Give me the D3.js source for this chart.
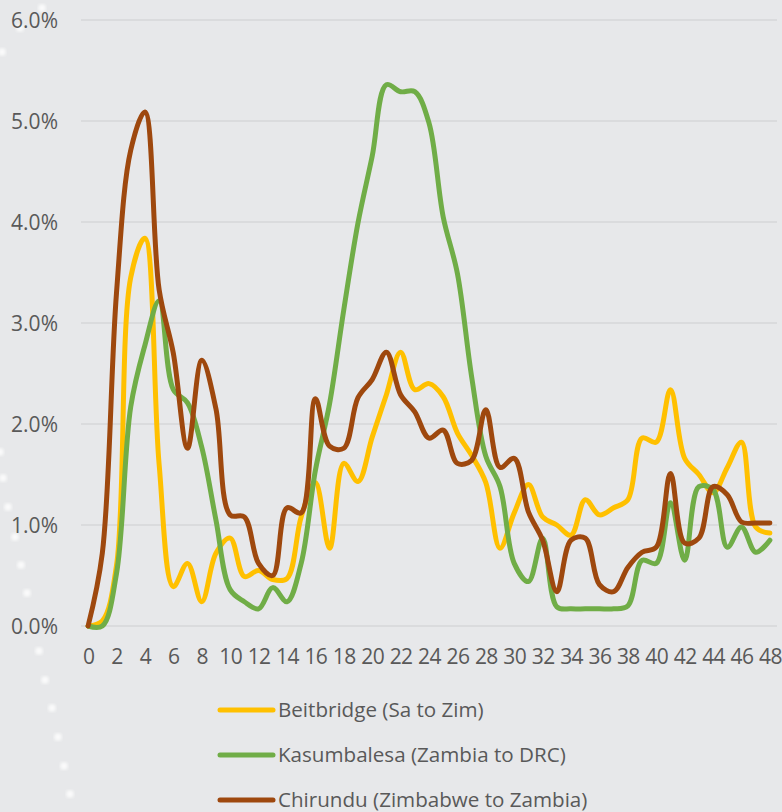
<!DOCTYPE html>
<html>
<head>
<meta charset="utf-8">
<script src="https://cdn.jsdelivr.net/npm/d3@7"></script>
<style>
  html, body { margin: 0; padding: 0; background: #e7e8ea; }
  svg { display: block; }
  text { font-family: "Open Sans", sans-serif; fill: #595959; }
</style>
</head>
<body>
<svg id="chart" width="782" height="812"></svg>
<script>
// ---- data ----
const hours = d3.range(0, 49);
const xTickLabels = d3.range(0, 49, 2);
const yTicks = [0, 0.01, 0.02, 0.03, 0.04, 0.05, 0.06];

const seriesNames = ["Beitbridge (Sa to Zim)", "Kasumbalesa (Zambia to DRC)", "Chirundu (Zimbabwe to Zambia)"];
const seriesColors = ["#FFC000", "#70AD47", "#9E480E"];

const beitbridge = [0.0, 0.05, 0.6, 3.45, 3.84, 1.6, 0.39, 0.62, 0.24, 0.72, 0.87, 0.49, 0.55, 0.46, 0.47, 1.08,
  1.42, 0.77, 1.61, 1.43, 1.87, 2.29, 2.71, 2.34, 2.40, 2.27, 1.91, 1.69, 1.42, 0.77, 1.12, 1.40,
  1.08, 1.00, 0.90, 1.25, 1.10, 1.17, 1.25, 1.86, 1.82, 2.34, 1.66, 1.50, 1.32, 1.57, 1.82, 0.98, 0.92];
const kasumbalesa = [0.0, 0.0, 0.52, 2.17, 2.78, 3.22, 2.34, 2.21, 1.77, 1.05, 0.36, 0.24, 0.17, 0.38, 0.24, 0.62,
  1.54, 2.2, 3.13, 3.99, 4.65, 5.36, 5.29, 5.29, 4.98, 4.05, 3.49, 2.47, 1.68, 1.38, 0.62, 0.44,
  0.87, 0.19, 0.17, 0.17, 0.17, 0.17, 0.2, 0.65, 0.62, 1.22, 0.65, 1.38, 1.35, 0.78, 0.98, 0.73, 0.85];
const chirundu = [0.0, 0.72, 3.3, 4.71, 5.09, 3.33, 2.7, 1.76, 2.63, 2.15, 1.10, 1.08, 0.62, 0.50, 1.17, 1.12,
  2.25, 1.78, 1.76, 2.26, 2.44, 2.71, 2.29, 2.12, 1.86, 1.94, 1.61, 1.64, 2.14, 1.57, 1.66, 1.13,
  0.85, 0.34, 0.85, 0.87, 0.41, 0.34, 0.58, 0.73, 0.78, 1.51, 0.82, 0.87, 1.38, 1.30, 1.03, 1.02, 1.02];

// decorative background dots (left edge)
const dotsX = [42, 20, 2, 0, 3, 8, 15, 21, 27, 39, 45, 52, 58, 64, 70];
const dotsY = [8, 28, 52, 452, 478, 507, 537, 565, 593, 651, 680, 708, 737, 766, 794];

// ---- chart ----
const svg = d3.select("#chart");
const plot = { left: 81, right: 777, top: 20, bottom: 626 };

const defs = svg.append("defs");
defs.append("filter").attr("id", "blur").append("feGaussianBlur").attr("stdDeviation", 1.5);
svg.append("g").selectAll("circle").data(dotsX).join("circle")
  .attr("cx", (d) => d).attr("cy", (d, i) => dotsY[i]).attr("r", 3.8)
  .attr("fill", "#ffffff").attr("opacity", 0.8).attr("filter", "url(#blur)");

const x = d3.scalePoint().domain(hours).range([plot.left, plot.right]).padding(0.5);
const y = d3.scaleLinear().domain([0, 0.06]).range([plot.bottom, plot.top]);

// gridlines
svg.append("g").selectAll("line").data(yTicks).join("line")
  .attr("x1", plot.left).attr("x2", plot.right)
  .attr("y1", (d) => y(d)).attr("y2", (d) => y(d))
  .attr("stroke", "#d6d7d9").attr("stroke-width", 1.5);

// y axis labels
const yAxis = d3.axisLeft(y).tickValues(yTicks).tickFormat(d3.format(".1%")).tickSize(0).tickPadding(0);
const gy = svg.append("g").attr("transform", "translate(58,0)").call(yAxis);
gy.select(".domain").remove();
gy.selectAll("text").attr("font-size", 21).attr("font-family", "Open Sans").attr("fill", "#595959")
  .attr("dy", "0.35em");

// x axis labels
const xAxis = d3.axisBottom(x).tickValues(xTickLabels).tickSize(0).tickPadding(0);
const gx = svg.append("g").attr("transform", "translate(0,657)").call(xAxis);
gx.select(".domain").remove();
gx.selectAll("text").attr("font-size", 21).attr("font-family", "Open Sans").attr("fill", "#595959")
  .attr("dy", "0.35em").attr("letter-spacing", "-0.6px");

// lines
const allSeries = [beitbridge, kasumbalesa, chirundu];
const line = d3.line()
  .x((d, i) => x(hours[i]))
  .y((d) => y(d / 100))
  .curve(d3.curveCatmullRom.alpha(0.5));

svg.append("g").selectAll("path").data(allSeries).join("path")
  .attr("d", (d) => line(d))
  .attr("fill", "none")
  .attr("stroke", (d, i) => seriesColors[i])
  .attr("stroke-width", 5)
  .attr("stroke-linejoin", "round")
  .attr("stroke-linecap", "round");

// legend
const legendY = [710, 755, 800];
const lg = svg.append("g").selectAll("g").data(seriesNames).join("g")
  .attr("transform", (d, i) => `translate(0,${legendY[i]})`);
lg.append("line").attr("x1", 220).attr("x2", 273).attr("y1", 0).attr("y2", 0)
  .attr("stroke", (d, i) => seriesColors[i]).attr("stroke-width", 5).attr("stroke-linecap", "round");
lg.append("text").attr("x", 278).attr("y", 0).attr("dy", "0.35em")
  .attr("font-size", 20.6).text((d) => d);
</script>
</body>
</html>
